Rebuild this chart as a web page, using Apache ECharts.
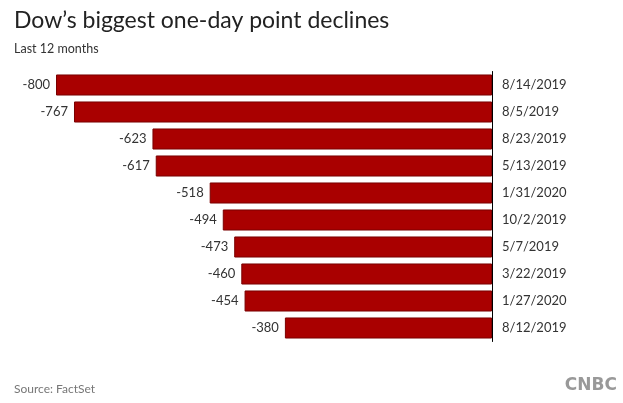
<!DOCTYPE html>
<html>
<head>
<meta charset="utf-8">
<script src="https://cdn.jsdelivr.net/npm/echarts@6/dist/echarts.min.js"></script>
<style>html,body{margin:0;padding:0;background:#fff}#c{width:623px;height:403px}</style>
</head>
<body>
<div id="c"></div>
<script>
const dates = ['8/14/2019','8/5/2019','8/23/2019','5/13/2019','1/31/2020','10/2/2019','5/7/2019','3/22/2019','1/27/2020','8/12/2019'];
const declines = [-800,-767,-623,-617,-518,-494,-473,-460,-454,-380];
const titleText = "Dow\u2019s biggest one-day point declines";
const subtitleText = 'Last 12 months';
const sourceText = 'Source: FactSet';

const chart = echarts.init(document.getElementById('c'), null, {renderer:'canvas'});
const FONT = 'Lato, "Open Sans", sans-serif';
chart.setOption({
  animation:false,
  backgroundColor:'#fff',
  title:[
    {text:titleText, left:9, top:4, textStyle:{fontFamily:FONT, fontSize:23, fontWeight:'normal', color:'#222'}},
    {text:subtitleText, left:9, top:37, textStyle:{fontFamily:FONT, fontSize:12.5, fontWeight:'normal', color:'#333'}},
    {text:sourceText, left:9, top:378, textStyle:{fontFamily:FONT, fontSize:12, fontWeight:'normal', color:'#777'}}
  ],
  graphic:[
    {type:'text', right:6, top:377, style:{text:'CNBC', font:'bold 17px "DejaVu Sans", sans-serif', fill:'#999'}}
  ],
  grid:{left:56, right:131, top:71.5, bottom:61.5},
  xAxis:{type:'value', min:-800, max:0, show:false},
  yAxis:{type:'category', data:dates, inverse:true, position:'right',
    axisLine:{show:true, onZero:false, lineStyle:{color:'#000', width:1}},
    axisTick:{show:false},
    axisLabel:{margin:10, fontFamily:FONT, fontSize:13, color:'#333'}
  },
  series:[{
    type:'bar', data:declines, barCategoryGap:'22%',
    itemStyle:{color:'#a90000', borderColor:'#7a0000', borderWidth:1},
    label:{show:true, position:'left', distance:6, fontFamily:FONT, fontSize:13, color:'#333'}
  }]
});
</script>
</body>
</html>
